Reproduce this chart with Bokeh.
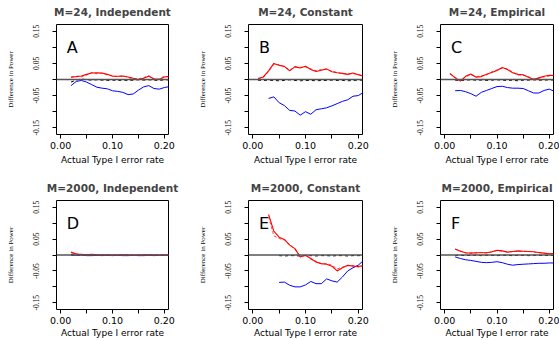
from bokeh.plotting import figure
from bokeh.layouts import column, row
from bokeh.models import FixedTicker, Span, NumeralTickFormatter, Range1d, Title
from bokeh.core.properties import value
from bokeh.embed import file_html
from bokeh.resources import INLINE

nan = float("nan")

# Actual type I error rate grid
X = [0.01, 0.02, 0.03, 0.04, 0.05, 0.06, 0.07, 0.08, 0.09, 0.10, 0.11,
     0.12, 0.13, 0.14, 0.15, 0.16, 0.17, 0.18, 0.19, 0.20, 0.21]

titles = ["M=24, Independent", "M=24, Constant", "M=24, Empirical",
          "M=2000, Independent", "M=2000, Constant", "M=2000, Empirical"]
letters = ["A", "B", "C", "D", "E", "F"]

# Panel A
A_red1 = [nan, 0.008, 0.009, 0.011, 0.016, 0.020, 0.021, 0.020, 0.016, 0.010, 0.010,
          0.011, 0.008, 0.004, 0.000, 0.004, 0.010, 0.002, 0.000, 0.008, 0.010]
A_red2 = [nan, 0.006, 0.010, 0.008, 0.014, 0.022, 0.018, 0.019, 0.014, 0.012, 0.008,
          0.012, 0.006, 0.002, 0.002, 0.006, 0.012, 0.000, 0.002, 0.010, 0.008]
A_blue = [nan, -0.019, -0.006, -0.003, -0.008, -0.016, -0.024, -0.027, -0.029, -0.035, -0.037,
          -0.040, -0.047, -0.045, -0.033, -0.023, -0.019, -0.028, -0.030, -0.025, -0.022]
A_black = [nan, -0.008, -0.002, 0.002, -0.001, -0.002, -0.001, -0.002, -0.003, -0.002, -0.003,
           -0.002, -0.003, -0.002, -0.001, -0.002, -0.001, -0.002, -0.003, -0.001, -0.001]

# Panel B
B_red1 = [0.003, 0.008, 0.027, 0.050, 0.044, 0.041, 0.027, 0.040, 0.036, 0.041, 0.031,
          0.025, 0.029, 0.033, 0.024, 0.021, 0.019, 0.016, 0.020, 0.015, 0.010]
B_red2 = [0.002, 0.006, 0.025, 0.047, 0.046, 0.039, 0.030, 0.038, 0.038, 0.039, 0.033,
          0.027, 0.031, 0.031, 0.026, 0.022, 0.018, 0.018, 0.018, 0.016, 0.011]
B_blue = [nan, nan, -0.059, -0.054, -0.072, -0.081, -0.096, -0.098, -0.111, -0.100, -0.108,
          -0.094, -0.091, -0.088, -0.082, -0.075, -0.068, -0.063, -0.052, -0.050, -0.040]
B_black = [-0.002, -0.003, -0.002, -0.003, -0.004, -0.003, -0.001, -0.003, -0.004, -0.003, -0.003,
           -0.004, -0.003, -0.003, -0.002, -0.003, -0.003, -0.004, -0.003, -0.002, -0.002]

# Panel C
C_red1 = [0.019, 0.005, -0.005, 0.010, 0.017, 0.007, 0.009, 0.016, 0.022, 0.028, 0.037,
          0.031, 0.021, 0.016, 0.015, 0.007, 0.000, 0.005, 0.010, 0.013, 0.012]
C_red2 = [0.017, 0.007, -0.003, 0.008, 0.015, 0.009, 0.011, 0.014, 0.024, 0.030, 0.035,
          0.033, 0.023, 0.014, 0.013, 0.009, 0.002, 0.004, 0.008, 0.011, 0.014]
C_blue = [nan, -0.035, -0.034, -0.038, -0.044, -0.052, -0.040, -0.034, -0.028, -0.022, -0.021,
          -0.025, -0.027, -0.027, -0.028, -0.035, -0.042, -0.042, -0.034, -0.030, -0.037]
C_black = [nan, -0.002, -0.003, -0.002, -0.001, -0.002, -0.002, -0.003, -0.002, -0.001, -0.002,
           -0.003, -0.002, -0.004, -0.002, -0.002, -0.001, -0.002, -0.002, -0.001, -0.002]

# Panel D
D_red1 = [nan, 0.009, 0.003, 0.002, 0.001, 0.002, 0.001, 0.000, 0.001, -0.001, 0.000,
          0.001, 0.000, -0.001, 0.000, 0.000, 0.001, 0.000, -0.001, 0.000, 0.000]
D_red2 = [nan, 0.007, 0.004, 0.001, 0.002, 0.001, 0.000, 0.001, 0.000, 0.000, -0.001,
          0.000, 0.001, 0.000, -0.001, 0.001, 0.000, 0.001, 0.000, -0.001, 0.000]
D_blue = [nan, 0.001, -0.001, 0.000, -0.002, -0.002, -0.001, -0.002, -0.001, -0.002, -0.001,
          -0.002, -0.002, -0.001, -0.002, -0.002, -0.001, -0.002, -0.001, -0.001, -0.001]
D_black = [nan, 0.000, -0.001, 0.000, -0.001, 0.000, -0.001, -0.001, 0.000, -0.001, 0.000,
           -0.001, 0.000, -0.001, -0.001, 0.000, -0.001, 0.000, -0.001, 0.000, -0.001]

# Panel E
E_red1 = [nan, nan, 0.127, 0.075, 0.056, 0.049, 0.031, 0.020, -0.006, -0.001, -0.011,
          -0.022, -0.027, -0.029, -0.035, -0.050, -0.040, -0.032, -0.035, -0.036, -0.033]
E_red2 = [nan, nan, 0.120, 0.060, 0.052, 0.047, 0.033, 0.018, -0.004, 0.000, -0.013,
          -0.020, -0.028, -0.027, -0.032, -0.044, -0.038, -0.034, -0.033, -0.038, -0.035]
E_blue = [nan, nan, nan, nan, -0.086, -0.085, -0.095, -0.100, -0.100, -0.094, -0.083,
          -0.090, -0.090, -0.075, -0.081, -0.085, -0.069, -0.050, -0.040, -0.032, -0.017]
E_black = [nan, nan, nan, nan, -0.002, -0.003, -0.002, -0.002, -0.003, -0.002, -0.002,
           -0.003, -0.002, -0.002, -0.003, -0.002, -0.002, -0.003, -0.002, -0.002, -0.002]

# Panel F
F_red1 = [nan, 0.019, 0.012, 0.007, 0.006, 0.007, 0.007, 0.007, 0.010, 0.015, 0.013,
          0.009, 0.011, 0.013, 0.012, 0.011, 0.010, 0.008, 0.006, 0.004, 0.005]
F_red2 = [nan, 0.018, 0.013, 0.006, 0.007, 0.006, 0.008, 0.006, 0.009, 0.014, 0.012,
          0.010, 0.010, 0.012, 0.011, 0.012, 0.009, 0.007, 0.005, 0.003, 0.004]
F_blue = [nan, -0.006, -0.011, -0.015, -0.017, -0.020, -0.023, -0.024, -0.023, -0.021, -0.024,
          -0.029, -0.032, -0.030, -0.029, -0.028, -0.027, -0.026, -0.026, -0.025, -0.025]
F_black = [nan, -0.001, -0.001, -0.002, -0.001, -0.001, -0.002, -0.001, -0.001, -0.002, -0.001,
           -0.001, -0.002, -0.001, -0.001, -0.002, -0.001, -0.001, -0.002, -0.001, -0.001]

panels = [
    (A_red1, A_red2, A_blue, A_black),
    (B_red1, B_red2, B_blue, B_black),
    (C_red1, C_red2, C_blue, C_black),
    (D_red1, D_red2, D_blue, D_black),
    (E_red1, E_red2, E_blue, E_black),
    (F_red1, F_red2, F_blue, F_black),
]

x_ticks = [0.0, 0.1, 0.2]
x_minor = [0.05, 0.15]
y_ticks = [-0.15, -0.05, 0.05, 0.15]
y_minor = [-0.10, 0.0, 0.10]

col_w = [192, 192, 175]
col_left = [56, 56, 56]
col_right = [24, 22, 6]
row_h = [177, 163]
row_top = [24, 23]
row_bottom = [43, 30]
x_label_standoff = [3, 3]
x_title_standoff = [3, 1]

YLIM = 0.171
NARROW = "Liberation Sans Narrow"


def make_panel(i):
    r, c = divmod(i, 3)
    red1, red2, blue, black = panels[i]
    p = figure(width=col_w[c], height=row_h[r],
               x_range=Range1d(-0.008, 0.208), y_range=Range1d(-YLIM, YLIM),
               output_backend="svg", toolbar_location=None,
               min_border_left=col_left[c], min_border_right=col_right[c],
               min_border_top=row_top[r], min_border_bottom=row_bottom[r],
               title=titles[i])
    p.title.text_font = "DejaVu Sans"
    p.title.text_font_size = "10.5px"
    p.title.text_font_style = "bold"
    p.title.align = "center"
    p.title.standoff = 2
    # thin blank spacer between the frame and the title, lifting the title a little
    p.add_layout(Title(text=" ", text_font_size="1px", standoff=3), "above")
    p.outline_line_color = "black"
    p.outline_line_alpha = 1.0
    p.outline_line_width = 1
    p.xgrid.grid_line_color = None
    p.ygrid.grid_line_color = None
    p.background_fill_color = "white"
    p.border_fill_color = "white"

    xa = p.xaxis[0]
    xa.ticker = FixedTicker(ticks=x_ticks, minor_ticks=x_minor)
    xa.formatter = NumeralTickFormatter(format="0.00")
    xa.axis_line_color = None
    xa.major_tick_out = 4
    xa.major_tick_in = 0
    xa.minor_tick_out = 4
    xa.minor_tick_in = 0
    xa.major_tick_line_color = "black"
    xa.minor_tick_line_color = "black"
    xa.major_label_text_font = "DejaVu Sans"
    xa.major_label_text_font_size = "9.5px"
    xa.major_label_text_color = "black"
    xa.major_label_standoff = x_label_standoff[r]
    xa.axis_label = "Actual Type I error rate"
    xa.axis_label_text_font = "DejaVu Sans"
    xa.axis_label_text_font_size = "9px"
    xa.axis_label_text_font_style = "normal"
    xa.axis_label_text_color = "black"
    xa.axis_label_standoff = x_title_standoff[r]

    ya = p.yaxis[0]
    ya.ticker = FixedTicker(ticks=y_ticks, minor_ticks=y_minor)
    ya.formatter = NumeralTickFormatter(format="0.00")
    ya.axis_line_color = None
    ya.major_tick_out = 4
    ya.major_tick_in = 0
    ya.minor_tick_out = 4
    ya.minor_tick_in = 0
    ya.major_tick_line_color = "black"
    ya.minor_tick_line_color = "black"
    ya.major_label_orientation = "vertical"
    ya.major_label_text_font = NARROW
    ya.major_label_text_font_size = "7.5px"
    ya.major_label_text_color = "black"
    ya.major_label_standoff = 13
    ya.axis_label = "Difference in Power"
    ya.axis_label_text_font = NARROW
    ya.axis_label_text_font_size = "7px"
    ya.axis_label_text_font_style = "normal"
    ya.axis_label_text_color = "black"
    ya.axis_label_standoff = 16

    p.add_layout(Span(location=0, dimension="width", line_color="#555555", line_width=1.3))
    p.line(X, black, line_color="black", line_width=1, line_dash="3 3")
    p.line(X, blue, line_color="#0000ff", line_width=1)
    p.line(X, red2, line_color="#ff0000", line_width=1, line_dash="3 2", line_alpha=0.7)
    p.line(X, red1, line_color="#ff0000", line_width=1.1)
    p.text(x=[0.012], y=[0.10], text=[letters[i]], text_font=value("DejaVu Sans"),
           text_font_size="16px", text_baseline="middle", text_align="left",
           text_color="black")
    return p


figs = [make_panel(i) for i in range(6)]
layout = column(row(*figs[:3], spacing=0), row(*figs[3:], spacing=0), spacing=0)

open("out.html", "w").write(file_html(layout, INLINE))
